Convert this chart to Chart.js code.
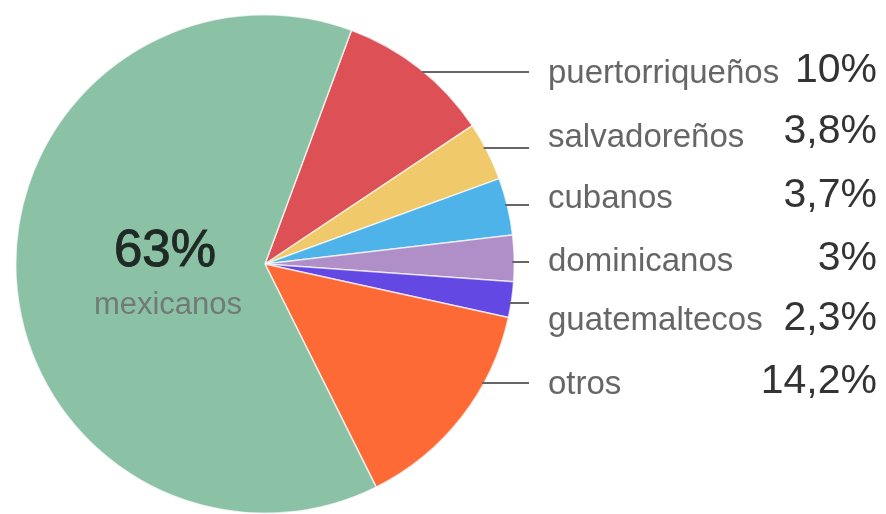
<!DOCTYPE html>
<html>
<head>
<meta charset="utf-8">
<script src="https://cdn.jsdelivr.net/npm/chart.js@4/dist/chart.umd.min.js"></script>
<style>
html,body{margin:0;padding:0;background:#fff;}
#wrap{width:886px;height:514px;position:relative;}
</style>
</head>
<body>
<div id="wrap"><canvas id="c" width="886" height="514"></canvas></div>
<script>
const categories = ["puertorriqueños","salvadoreños","cubanos","dominicanos","guatemaltecos","otros","mexicanos"];
const values = [10, 3.8, 3.7, 3, 2.3, 14.2, 63];
const valueLabels = ["10%","3,8%","3,7%","3%","2,3%","14,2%","63%"];
const colors = ["#dc5056","#f0c96b","#4db3e8","#b08fc8","#6448e4","#fd6a35","#8bc2a6"];

// layout for right-hand labels (not data)
const rowLineY = [72,148,205,262,303,383];
const rowLabelBase = [83,147,208,271,330,394];
const rowValueBase = [82,143,207,270,330,393];

const labelPlugin = {
  id:'sideLabels',
  afterDatasetsDraw(chart){
    const ctx = chart.ctx;
    const arc = chart.getDatasetMeta(0).data[0];
    const cx = arc.x, cy = arc.y, r = arc.outerRadius;
    ctx.save();
    for(let i=0;i<6;i++){
      const y = rowLineY[i];
      const dy = y - cy;
      const x0 = cx + Math.sqrt(Math.max(0, r*r - dy*dy)) - 2;
      ctx.strokeStyle = '#666';
      ctx.lineWidth = 2;
      ctx.beginPath();
      ctx.moveTo(x0, y);
      ctx.lineTo(529, y);
      ctx.stroke();
      ctx.fillStyle = '#666';
      ctx.font = '33px "Liberation Sans", Arial, sans-serif';
      ctx.textAlign = 'left';
      ctx.textBaseline = 'alphabetic';
      ctx.fillText(categories[i], 548, rowLabelBase[i]);
      ctx.fillStyle = '#333';
      ctx.font = '41px "Liberation Sans", Arial, sans-serif';
      ctx.textAlign = 'right';
      ctx.fillText(valueLabels[i], 877, rowValueBase[i]);
    }
    // center label for mexicanos
    ctx.textAlign = 'center';
    ctx.fillStyle = '#1f2a24';
    ctx.strokeStyle = '#1f2a24';
    ctx.lineWidth = 1;
    ctx.font = '51px "Liberation Sans", Arial, sans-serif';
    ctx.fillText(valueLabels[6], 165, 266);
    ctx.strokeText(valueLabels[6], 165, 266);
    ctx.fillStyle = '#737a76';
    ctx.font = '31px "Liberation Sans", Arial, sans-serif';
    ctx.fillText(categories[6], 168, 314);
    ctx.restore();
  }
};

new Chart(document.getElementById('c'), {
  type: 'pie',
  data: {
    labels: categories,
    datasets: [{
      data: values,
      backgroundColor: colors,
      borderColor: 'rgba(255,255,255,0.7)',
      borderWidth: 1.5
    }]
  },
  options: {
    responsive: false,
    animation: false,
    rotation: 20.3,
    layout: { padding: { left: 15, right: 371, top: 14, bottom: 0 } },
    plugins: { legend: { display: false }, tooltip: { enabled: false } }
  },
  plugins: [labelPlugin]
});
</script>
</body>
</html>
